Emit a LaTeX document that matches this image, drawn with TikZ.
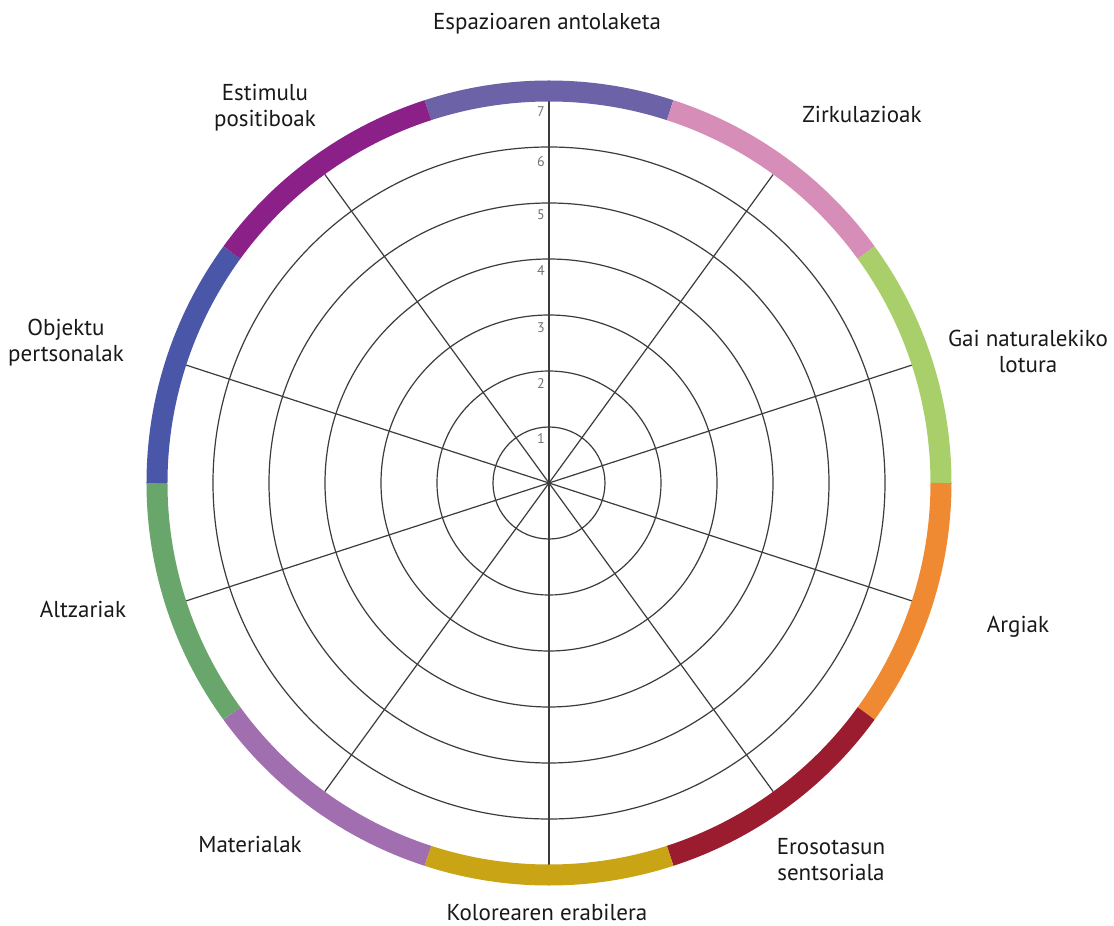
\documentclass[tikz,border=0pt]{standalone}
\usepackage{fontspec}
\setmainfont{PT Sans}
\definecolor{cTop}{HTML}{6B62A8}
\definecolor{cPink}{HTML}{D68DB7}
\definecolor{cLgreen}{HTML}{A9CF6B}
\definecolor{cOrange}{HTML}{F08A32}
\definecolor{cRed}{HTML}{9B1C2E}
\definecolor{cGold}{HTML}{C9A414}
\definecolor{cLav}{HTML}{A16FB0}
\definecolor{cGreen}{HTML}{68A66B}
\definecolor{cBlue}{HTML}{4A56A8}
\definecolor{cMag}{HTML}{8B2188}
\definecolor{gridc}{HTML}{3C3C3C}
\tikzset{
  gridline/.style={draw=gridc, line width=1.2pt},
  ringseg/.style={line width=21pt},
  lbl/.style={font=\fontsize{23}{26}\selectfont, text=black!90, anchor=base, inner sep=0pt},
  lbltwo/.style={lbl, align=center},
  numlbl/.style={font=\fontsize{14}{16}\selectfont, text=black!55, anchor=east, inner sep=0pt},
}
\begin{document}
\begin{tikzpicture}[x=1pt,y=1pt]
\useasboundingbox[fill=white] (-549,-443) rectangle (565,483);
\coordinate (O) at (0,0);
% grid circles
\foreach \k in {1,...,6} {
  \draw[gridline] (O) circle[radius=56*\k];
}
% radial lines
\foreach \a in {18,54,...,342} {
  \draw[gridline] (O) -- (\a:381.5);
}
% ring
\foreach \a/\c in {72/cTop,36/cPink,0/cLgreen,-36/cOrange,-72/cRed,-108/cGold,-144/cLav,180/cGreen,144/cBlue,108/cMag} {
  \draw[ringseg, \c] (\a:392) arc[start angle=\a, end angle=\a+36, radius=392];
}
% scale numbers
\node[numlbl] (n1) at (-4,44) {1};
\node[numlbl] (n2) at (-4,99) {2};
\node[numlbl] (n3) at (-4,155) {3};
\node[numlbl] (n4) at (-4,212) {4};
\node[numlbl] (n5) at (-4,268) {5};
\node[numlbl] (n6) at (-4,321) {6};
\node[numlbl] (n7) at (-4,371) {7};
% labels (multi-line: anchor at the baseline of the last line)
\node[lbl] (l1) at (-2,453) {Espazioaren antolaketa};
\node[lbl] (l2) at (313,360) {Zirkulazioak};
\node[lbltwo] (l3) at (479,110) {Gai naturalekiko\\lotura};
\node[lbl] (l4) at (469,-149) {Argiak};
\node[lbltwo] (l5) at (282,-397) {Erosotasun\\sentsoriala};
\node[lbl] (l6) at (-2,-437) {Kolorearen erabilera};
\node[lbl] (l7) at (-299,-369) {Materialak};
\node[lbl] (l8) at (-466,-134) {Altzariak};
\node[lbltwo] (l9) at (-483,121) {Objektu\\pertsonalak};
\node[lbltwo] (l10) at (-284,356) {Estimulu\\positiboak};
\end{tikzpicture}
\end{document}
